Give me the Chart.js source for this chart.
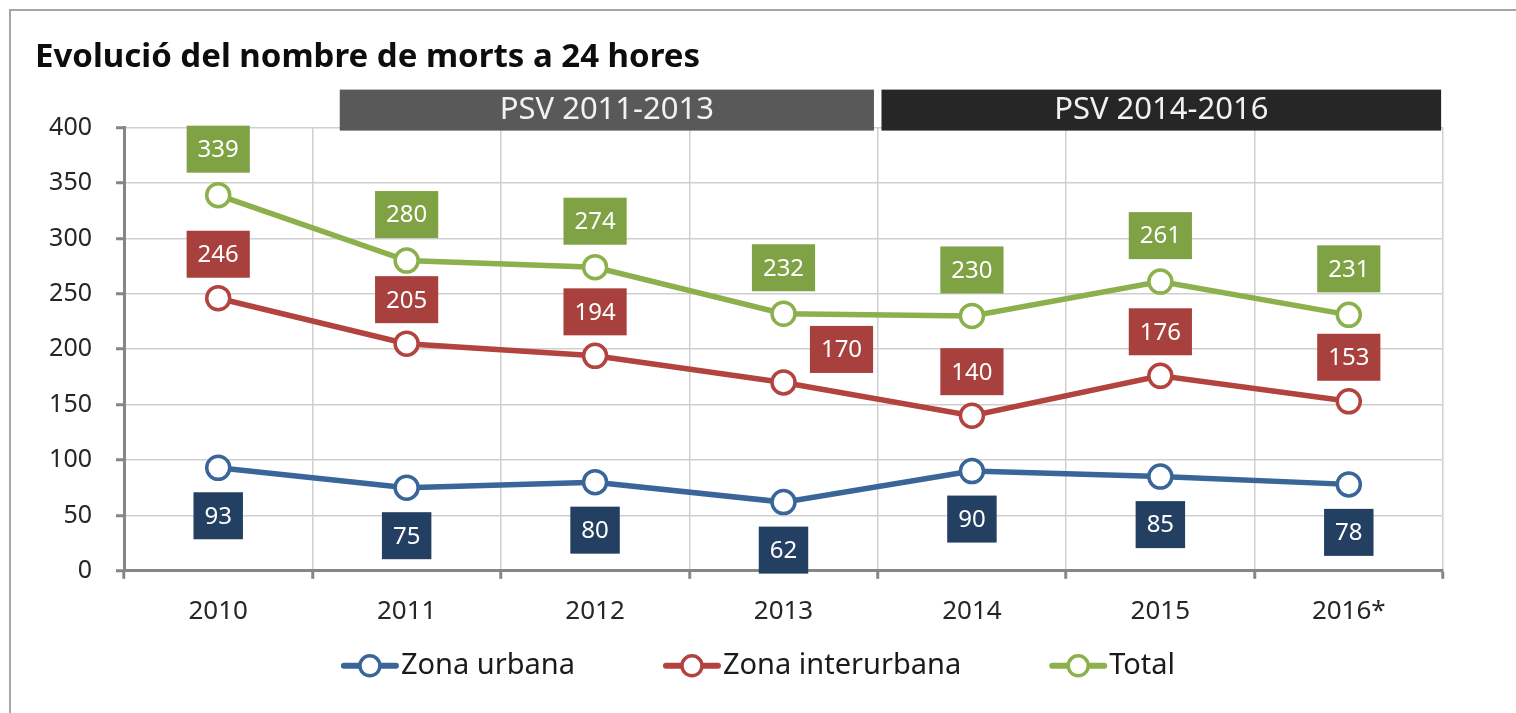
<!DOCTYPE html>
<html>
<head>
<meta charset="utf-8">
<script src="https://cdn.jsdelivr.net/npm/chart.js@4/dist/chart.umd.min.js"></script>
<style>
  html, body { margin: 0; padding: 0; background: #fff; }
  #wrap { position: relative; width: 1516px; height: 713px; }
</style>
</head>
<body>
<div id="wrap"><canvas id="chart"></canvas></div>
<script>
// data
const years = ['2010', '2011', '2012', '2013', '2014', '2015', '2016*'];
const urbana = [93, 75, 80, 62, 90, 85, 78];
const interurbana = [246, 205, 194, 170, 140, 176, 153];
const total = [339, 280, 274, 232, 230, 261, 231];
const seriesNames = ['Zona urbana', 'Zona interurbana', 'Total'];

// plan periods shown above the plot (start / end as category index)
const periods = [
    { label: 'PSV 2011-2013', from: 0.645, to: 3.48, color: '#595959' },
    { label: 'PSV 2014-2016', from: 3.52, to: 6.49, color: '#262626' }
];

const lineColors = ['#3A6598', '#B2433F', '#8BB04C'];
const boxColors = ['#233F62', '#A8403D', '#7EA244'];

const FONT = "'Noto Sans', sans-serif";

// label boxes: dy < 0 above the point, > 0 below
const labelOffsets = [
    { dy: 48 },
    { dy: -44, special: { 3: { dx: 58, dy: -33 } } },
    { dy: -46 }
];

// outer frame (the reference is cropped, only top and left sides show)
const framePlugin = {
    id: 'frame',
    beforeDraw(chart) {
        const ctx = chart.ctx;
        ctx.save();
        ctx.strokeStyle = '#A6A6A6';
        ctx.lineWidth = 2;
        ctx.beginPath();
        ctx.moveTo(10, chart.height);
        ctx.lineTo(10, 10);
        ctx.lineTo(chart.width, 10);
        ctx.stroke();
        ctx.restore();
    }
};

// period bands
const bandPlugin = {
    id: 'bands',
    afterDraw(chart) {
        const ctx = chart.ctx;
        const x = chart.scales.x;
        const top = chart.chartArea.top;
        ctx.save();
        periods.forEach(p => {
            const x0 = x.getPixelForValue(p.from);
            const x1 = x.getPixelForValue(p.to);
            ctx.fillStyle = p.color;
            ctx.fillRect(x0, top - 38, x1 - x0, 41);
            ctx.fillStyle = '#F2F2F2';
            ctx.font = '31px ' + FONT;
            ctx.textAlign = 'center';
            ctx.textBaseline = 'middle';
            ctx.fillText(p.label, (x0 + x1) / 2, top - 17);
        });
        ctx.restore();
    }
};

// value boxes
const boxLabelPlugin = {
    id: 'boxLabels',
    afterDatasetsDraw(chart) {
        const ctx = chart.ctx;
        ctx.save();
        ctx.font = '24px ' + FONT;
        ctx.textAlign = 'center';
        ctx.textBaseline = 'middle';
        chart.data.datasets.forEach((ds, di) => {
            const meta = chart.getDatasetMeta(di);
            const off = labelOffsets[di];
            meta.data.forEach((pt, i) => {
                const sp = (off.special && off.special[i]) || {};
                const cx = pt.x + (sp.dx || 0);
                const cy = pt.y + (sp.dy !== undefined ? sp.dy : off.dy);
                const txt = String(ds.data[i]);
                const w = ctx.measureText(txt).width + 22;
                const h = 47;
                ctx.fillStyle = boxColors[di];
                ctx.fillRect(cx - w / 2, cy - h / 2, w, h);
                ctx.fillStyle = '#FFFFFF';
                ctx.fillText(txt, cx, cy + 1);
            });
        });
        ctx.restore();
    }
};

// legend with line + circle markers
const legendPlugin = {
    id: 'lineLegend',
    afterDraw(chart) {
        const ctx = chart.ctx;
        const y = chart.chartArea.bottom + 95;
        const lineW = 58;
        const gap = 88;
        ctx.save();
        ctx.font = '29px ' + FONT;
        ctx.textBaseline = 'middle';
        let totalW = 0;
        const widths = seriesNames.map(n => ctx.measureText(n).width);
        widths.forEach((w, i) => { totalW += lineW + 2 + w + (i < widths.length - 1 ? gap : 0); });
        let x = chart.width / 2 - totalW / 2;
        seriesNames.forEach((n, i) => {
            ctx.strokeStyle = lineColors[i];
            ctx.lineWidth = 6;
            ctx.lineCap = 'round';
            ctx.beginPath();
            ctx.moveTo(x + 3, y);
            ctx.lineTo(x + lineW - 3, y);
            ctx.stroke();
            ctx.beginPath();
            ctx.arc(x + lineW / 2, y, 10, 0, Math.PI * 2);
            ctx.fillStyle = '#fff';
            ctx.fill();
            ctx.lineWidth = 3.5;
            ctx.stroke();
            ctx.fillStyle = '#1A1A1A';
            ctx.textAlign = 'left';
            ctx.fillText(n, x + lineW + 2, y);
            x += lineW + 2 + widths[i] + gap;
        });
        ctx.restore();
    }
};

const seriesData = [urbana, interurbana, total];
const datasets = seriesData.map((d, i) => ({
    label: seriesNames[i],
    data: d,
    borderColor: lineColors[i],
    backgroundColor: '#FFFFFF',
    borderWidth: 5.5,
    pointRadius: 11.5,
    pointBorderWidth: 3.5,
    pointBackgroundColor: '#FFFFFF',
    pointBorderColor: lineColors[i],
    tension: 0
}));

const ctx = document.getElementById('chart').getContext('2d');
// eslint-disable-next-line no-undef, no-unused-vars
const chart = new Chart(ctx, {
    type: 'line',
    data: { labels: years, datasets: datasets },
    options: {
        responsive: true,
        maintainAspectRatio: false,
        animation: false,
        layout: { padding: { left: 35, right: 73, top: 18, bottom: 69 } },
        plugins: {
            legend: { display: false },
            tooltip: { enabled: false },
            title: {
                display: true,
                text: 'Evolució del nombre de morts a 24 hores',
                align: 'start',
                color: '#0D0D0D',
                font: { family: FONT, size: 33, weight: 'bold' },
                padding: { top: 20, bottom: 50 }
            }
        },
        scales: {
            x: {
                offset: true,
                grid: {
                    offset: true,
                    color: '#CFCFCF',
                    lineWidth: 1.5,
                    tickColor: '#868686',
                    tickWidth: 3,
                    tickLength: 8
                },
                border: { color: '#868686', width: 3 },
                ticks: {
                    color: '#262626',
                    font: { family: FONT, size: 26 },
                    padding: 17,
                    maxRotation: 0
                }
            },
            y: {
                min: 0,
                max: 400,
                afterFit(scale) { scale.width = 89; },
                grid: {
                    color: '#CFCFCF',
                    lineWidth: 1.5,
                    tickColor: '#868686',
                    tickWidth: 3,
                    tickLength: 8
                },
                border: { color: '#868686', width: 3 },
                ticks: {
                    stepSize: 50,
                    color: '#262626',
                    font: { family: FONT, size: 25 },
                    padding: 24
                }
            }
        }
    },
    plugins: [framePlugin, bandPlugin, boxLabelPlugin, legendPlugin]
});
</script>
</body>
</html>
